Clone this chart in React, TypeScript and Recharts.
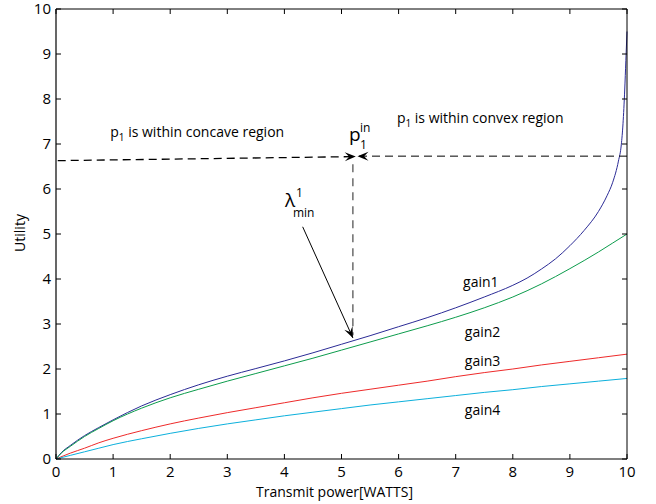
import { LineChart, Line, XAxis, YAxis, ReferenceLine, ReferenceDot, Label } from 'recharts';

// values
const power1 = [0, 0.1, 0.25, 0.5, 0.75, 1, 1.5, 2, 2.5, 3, 3.5, 4, 4.5, 5, 5.5, 6, 6.5, 7, 7.5, 8, 8.25, 8.5, 8.75, 9, 9.25, 9.5, 9.65, 9.75, 9.85, 9.9, 9.93, 9.96, 9.98, 10];
const gain1 = [0, 0.15, 0.3, 0.52, 0.7, 0.87, 1.18, 1.43, 1.65, 1.84, 2.01, 2.18, 2.36, 2.55, 2.74, 2.94, 3.14, 3.36, 3.6, 3.86, 4.02, 4.22, 4.45, 4.74, 5.08, 5.5, 5.85, 6.15, 6.62, 6.98, 7.45, 8.2, 8.85, 9.5];

const power2 = [0, 0.1, 0.25, 0.5, 0.75, 1, 1.5, 2, 2.5, 3, 3.5, 4, 4.5, 5, 5.5, 6, 6.5, 7, 7.5, 8, 8.5, 9, 9.5, 9.75, 10];
const gain2 = [0, 0.14, 0.28, 0.5, 0.68, 0.85, 1.13, 1.36, 1.55, 1.73, 1.9, 2.07, 2.24, 2.42, 2.6, 2.78, 2.96, 3.15, 3.36, 3.6, 3.89, 4.23, 4.6, 4.8, 5.0];

const power3 = [0, 0.25, 0.5, 0.75, 1, 1.5, 2, 2.5, 3, 3.5, 4, 4.5, 5, 5.5, 6, 6.5, 7, 7.5, 8, 8.5, 9, 9.5, 10];
const gain3 = [0, 0.13, 0.24, 0.36, 0.46, 0.63, 0.78, 0.91, 1.03, 1.14, 1.25, 1.36, 1.46, 1.55, 1.64, 1.73, 1.83, 1.92, 2.0, 2.09, 2.17, 2.25, 2.33];

const power4 = [0, 0.25, 0.5, 0.75, 1, 1.5, 2, 2.5, 3, 3.5, 4, 4.5, 5, 5.5, 6, 6.5, 7, 7.5, 8, 8.5, 9, 9.5, 10];
const gain4 = [0, 0.08, 0.16, 0.24, 0.32, 0.45, 0.57, 0.68, 0.78, 0.87, 0.96, 1.04, 1.12, 1.2, 1.27, 1.34, 1.41, 1.48, 1.54, 1.61, 1.67, 1.73, 1.79];

const xTicks = [0, 1, 2, 3, 4, 5, 6, 7, 8, 9, 10];
const yTicks = [0, 1, 2, 3, 4, 5, 6, 7, 8, 9, 10];

const toRows = (xs: number[], ys: number[]) => xs.map((x, i) => ({ x, y: ys[i] }));

const FONT = '"Open Sans", "DejaVu Sans", sans-serif';

// notched arrow head like matlab's annotation arrows
function headPoints(x1: number, y1: number, x2: number, y2: number, len = 11, half = 4.5) {
  const a = Math.atan2(y2 - y1, x2 - x1);
  const c = Math.cos(a);
  const s = Math.sin(a);
  const bx = x2 - len * c;
  const by = y2 - len * s;
  const nx = x2 - len * 0.6 * c;
  const ny = y2 - len * 0.6 * s;
  return `${x2},${y2} ${bx - half * s},${by + half * c} ${nx},${ny} ${bx + half * s},${by - half * c}`;
}

const arrow = (dash: string | undefined, sw: number) => (p: any) => (
  <g>
    <line x1={p.x1} y1={p.y1} x2={p.x2} y2={p.y2} stroke="#000" strokeWidth={sw} strokeDasharray={dash} />
    <polygon points={headPoints(p.x1, p.y1, p.x2, p.y2)} fill="#000" />
  </g>
);

const BottomTick = ({ x, y, payload }: any) => (
  <g>
    <line x1={x} y1={y} x2={x} y2={y - 5} stroke="#000" />
    <text x={x} y={y + 18} textAnchor="middle" fontSize={15} fontFamily={FONT} fill="#000">
      {payload.value}
    </text>
  </g>
);

const LeftTick = ({ x, y, payload }: any) => (
  <g>
    <line x1={x} y1={y} x2={x + 5} y2={y} stroke="#000" />
    <text x={x - 5} y={y + 5} textAnchor="end" fontSize={15} fontFamily={FONT} fill="#000">
      {payload.value}
    </text>
  </g>
);

const TopTick = ({ x, y }: any) => <line x1={x} y1={y} x2={x} y2={y + 5} stroke="#000" />;
const RightTick = ({ x, y }: any) => <line x1={x} y1={y} x2={x - 5} y2={y} stroke="#000" />;

const textAt = (content: (cx: number, cy: number) => any) => (p: any) => content(p.cx, p.cy);

const plain = { fontFamily: FONT, fill: '#000' };

export default function App() {
  return (
    <div style={{ position: 'absolute', left: 0, top: 0, width: 656, height: 504, background: '#fff' }}>
      <LineChart width={656} height={504} margin={{ top: 8, right: 28, bottom: 15, left: 0 }}>
        <XAxis
          dataKey="x"
          type="number"
          domain={[0, 10]}
          ticks={xTicks}
          interval={0}
          height={30}
          tickSize={0}
          tickMargin={0}
          tick={<BottomTick />}
          axisLine={{ stroke: '#000', strokeWidth: 1.2 }}
        >
          <Label
            content={({ viewBox }: any) => (
              <text x={viewBox.x + viewBox.width / 2 - 7} y={viewBox.y + 38} textAnchor="middle" fontSize={14} {...plain}>
                Transmit power[WATTS]
              </text>
            )}
          />
        </XAxis>
        <XAxis
          xAxisId="top"
          orientation="top"
          dataKey="x"
          type="number"
          domain={[0, 10]}
          ticks={xTicks}
          interval={0}
          height={1}
          tickSize={0}
          tickMargin={0}
          tick={<TopTick />}
          axisLine={{ stroke: '#000' }}
        />
        <YAxis
          type="number"
          domain={[0, 10]}
          ticks={yTicks}
          interval={0}
          width={56}
          tickSize={0}
          tickMargin={0}
          tick={<LeftTick />}
          axisLine={{ stroke: '#000', strokeWidth: 1.2 }}
        >
          <Label
            content={({ viewBox }: any) => (
              <text
                x={25}
                y={viewBox.y + viewBox.height / 2 - 1}
                transform={`rotate(-90 25 ${viewBox.y + viewBox.height / 2 - 1})`}
                textAnchor="middle"
                fontSize={14}
                {...plain}
              >
                Utility
              </text>
            )}
          />
        </YAxis>
        <YAxis
          yAxisId="right"
          orientation="right"
          type="number"
          domain={[0, 10]}
          ticks={yTicks}
          interval={0}
          width={1}
          tickSize={0}
          tickMargin={0}
          tick={<RightTick />}
          axisLine={{ stroke: '#000' }}
        />

        <Line data={toRows(power1, gain1)} dataKey="y" type="monotone" stroke="#2b2b96" strokeWidth={1} dot={false} isAnimationActive={false} />
        <Line data={toRows(power2, gain2)} dataKey="y" type="monotone" stroke="#0c9c4c" strokeWidth={1} dot={false} isAnimationActive={false} />
        <Line data={toRows(power3, gain3)} dataKey="y" type="monotone" stroke="#ee2a2a" strokeWidth={1} dot={false} isAnimationActive={false} />
        <Line data={toRows(power4, gain4)} dataKey="y" type="monotone" stroke="#0cb0dc" strokeWidth={1} dot={false} isAnimationActive={false} />
        {/* invisible copy so the top/right box axes get a domain */}
        <Line
          xAxisId="top"
          yAxisId="right"
          data={toRows(power4, gain4)}
          dataKey="y"
          stroke="none"
          dot={false}
          activeDot={false}
          legendType="none"
          isAnimationActive={false}
        />

        {/* dashed arrows meeting at p1 */}
        <ReferenceLine segment={[{ x: 0.03, y: 6.63 }, { x: 5.25, y: 6.72 }]} shape={arrow('8 5', 1.3)} />
        <ReferenceLine segment={[{ x: 10, y: 6.73 }, { x: 5.28, y: 6.73 }]} shape={arrow('8 5', 1)} />
        <ReferenceLine segment={[{ x: 5.2, y: 6.55 }, { x: 5.2, y: 2.75 }]} stroke="#222" strokeDasharray="8 6" />
        {/* lambda_min arrow */}
        <ReferenceLine segment={[{ x: 4.32, y: 5.16 }, { x: 5.2, y: 2.69 }]} shape={arrow(undefined, 1)} />

        <ReferenceDot
          x={0.95}
          y={7.16}
          r={0}
          shape={textAt((cx, cy) => (
            <text x={cx} y={cy} fontSize={14} {...plain}>
              p
              <tspan fontSize={10} dy={4}>1</tspan>
              <tspan dy={-4}> is within concave region</tspan>
            </text>
          ))}
        />
        <ReferenceDot
          x={5.97}
          y={7.47}
          r={0}
          shape={textAt((cx, cy) => (
            <text x={cx} y={cy} fontSize={14} {...plain}>
              p
              <tspan fontSize={10} dy={4}>1</tspan>
              <tspan dy={-4}> is within convex region</tspan>
            </text>
          ))}
        />
        <ReferenceDot
          x={5.13}
          y={7.07}
          r={0}
          shape={textAt((cx, cy) => (
            <g>
              <text x={cx} y={cy} fontSize={19} {...plain}>p</text>
              <text x={cx + 11} y={cy - 9} fontSize={12} {...plain}>in</text>
              <text x={cx + 11} y={cy + 8} fontSize={12} {...plain}>1</text>
            </g>
          ))}
        />
        <ReferenceDot
          x={4.01}
          y={5.6}
          r={0}
          shape={textAt((cx, cy) => (
            <g>
              <text x={cx} y={cy} fontSize={19} {...plain}>λ</text>
              <text x={cx + 11} y={cy - 10} fontSize={12} {...plain}>1</text>
              <text x={cx + 8} y={cy + 10} fontSize={12} {...plain}>min</text>
            </g>
          ))}
        />

        <ReferenceDot x={7.13} y={3.82} r={0} shape={textAt((cx, cy) => <text x={cx} y={cy} fontSize={14} {...plain}>gain1</text>)} />
        <ReferenceDot x={7.16} y={2.72} r={0} shape={textAt((cx, cy) => <text x={cx} y={cy} fontSize={14} {...plain}>gain2</text>)} />
        <ReferenceDot x={7.16} y={2.06} r={0} shape={textAt((cx, cy) => <text x={cx} y={cy} fontSize={14} {...plain}>gain3</text>)} />
        <ReferenceDot x={7.16} y={0.98} r={0} shape={textAt((cx, cy) => <text x={cx} y={cy} fontSize={14} {...plain}>gain4</text>)} />
      </LineChart>
    </div>
  );
}
